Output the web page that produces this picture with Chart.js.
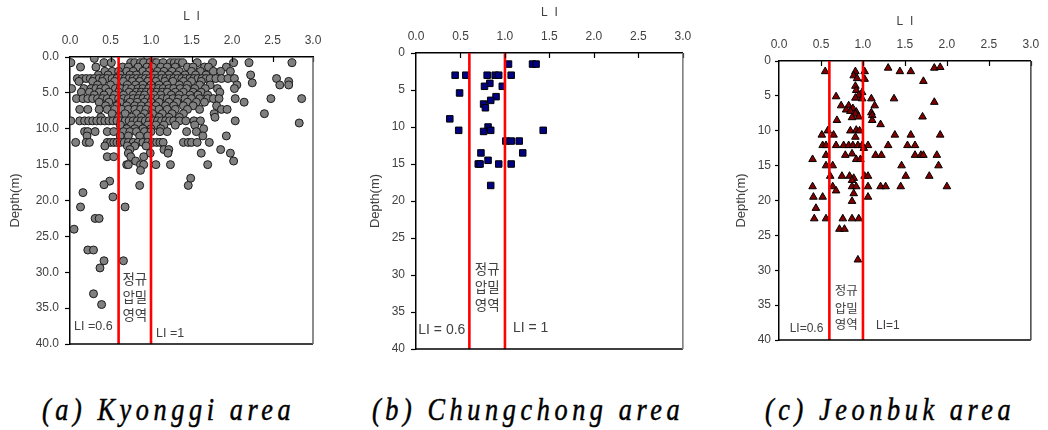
<!DOCTYPE html>
<html><head><meta charset="utf-8">
<script src="https://cdn.jsdelivr.net/npm/chart.js@4.4.1/dist/chart.umd.min.js"></script>
<style>
html,body{margin:0;padding:0;background:#fff;width:1048px;height:430px;overflow:hidden;position:relative;}
canvas{position:absolute;top:0;}
.cap{position:absolute;top:392px;font-family:"Liberation Serif",serif;font-style:italic;font-size:32px;line-height:34px;letter-spacing:5.6px;color:#000;white-space:nowrap;transform:scaleX(0.82);transform-origin:0 0;-webkit-text-stroke:0.5px #000;}
</style></head><body>
<canvas id="ca" width="340" height="370" style="left:0;width:340px;height:370px"></canvas>
<canvas id="cb" width="350" height="370" style="left:350px;width:350px;height:370px"></canvas>
<canvas id="cc" width="348" height="370" style="left:700px;width:348px;height:370px"></canvas>
<div class="cap" id="capA" style="left:42px"></div>
<div class="cap" id="capB" style="left:372px"></div>
<div class="cap" id="capC" style="left:765px"></div>
<script>
// ---- data ----
const liRange = [0, 3];
const depthRange = [0, 40];
const boundaries = [0.6, 1.0];
const zoneLabel = ['정규', '압밀', '영역'];
const captions = ['(a) Kyonggi area', '(b) Chungchong area', '(c) Jeonbuk area'];

// (a) Kyonggi: sampling depths and LI values measured at each depth
const kyonggiDepths = [0.0, 0.2, 0.8, 1.4, 2.0, 2.5, 3.0, 3.4, 3.6, 3.9, 4.4, 4.9, 5.3, 5.8, 6.3, 6.8, 7.3, 7.9, 8.4, 8.9, 9.2, 9.5, 10.0, 10.4, 11.0, 11.9, 12.4, 12.9, 13.4, 13.9, 14.5, 15.0];
const kyonggiLI = [
  [0.96],
  [0.30],
  [0.01,0.42,0.51,0.75,0.80,0.87,0.91,0.99,1.04,1.07,1.15,1.24,1.29,1.34,1.39,1.57,1.76,2.02,2.21,2.74],
  [0.13,0.32,0.65,0.72,0.84,0.95,1.02,1.12,1.20,1.30,1.45,1.52,1.66,1.71,1.93],
  [0.43,0.52,0.60,0.70,0.78,0.90,0.98,1.08,1.16,1.26,1.35,1.50,1.61,1.77,1.86,1.98],
  [0.35,0.47,0.62,0.74,0.82,0.94,1.05,1.13,1.22,1.32,1.42,1.55,1.68,2.23],
  [0.09,0.15,0.20,0.25,0.30,0.36,0.41,0.46,0.52,0.58,0.63,0.68,0.73,0.78,0.83,0.88,0.93,0.98,1.03,1.08,1.13,1.18,1.23,1.28,1.33,1.38,1.43,1.48,1.53,1.58,1.63,1.68,1.73,1.80,1.87,1.95,2.03,2.55],
  [0.11,0.28,0.40,0.55,0.66,0.77,0.86,0.96,1.06,1.17,1.27,1.40,1.50,1.62,2.70],
  [2.25],
  [0.34,0.50,0.71,0.81,0.90,1.00,1.10,1.20,1.35,1.45,1.60,1.73,2.06,2.59,2.70],
  [0.02,0.17,0.26,0.32,0.38,0.44,0.56,0.62,0.70,0.76,0.84,0.90,0.97,1.03,1.09,1.15,1.22,1.28,1.36,1.44,1.54,1.67,1.82,2.03],
  [0.14,0.24,0.36,0.48,0.60,0.73,0.82,0.88,0.94,1.00,1.07,1.14,1.20,1.30,1.40,1.52,1.62,1.85],
  [0.30,0.42,0.55,0.66,0.78,0.86,0.92,1.04,1.12,1.25,1.35,1.48,1.58,1.70],
  [0.08,0.16,0.22,0.28,0.34,0.40,0.46,0.53,0.60,0.66,0.72,0.78,0.84,0.90,0.96,1.02,1.08,1.14,1.20,1.27,1.34,1.42,1.50,1.60,1.70,1.77,1.84,2.04,2.48,2.86],
  [0.36,0.48,0.62,0.74,0.83,0.92,1.00,1.10,1.22,1.32,1.45,1.56,1.66,2.15],
  [0.44,0.58,0.70,0.80,0.88,0.97,1.06,1.18,1.28,1.40,1.52,1.81],
  [0.12,0.22,0.36,0.46,0.55,0.64,0.72,0.80,0.87,0.94,1.02,1.10,1.20,1.30,1.45,1.60,1.87,1.94],
  [0.52,0.68,0.82,0.92,1.02,1.14,1.26,1.40,1.78,2.40],
  [0.38,0.60,0.76,0.88,0.98,1.10,1.22,1.35,1.79],
  [0.01,0.12,0.18,0.23,0.28,0.33,0.38,0.43,0.48,0.53,0.58,0.63,0.68,0.73,0.78,0.83,0.88,0.93,0.98,1.03,1.08,1.13,1.18,1.23,1.28,1.35,1.43,1.53,1.61,2.04],
  [2.83],
  [0.62,0.76,0.84,0.96,1.06,1.16,1.30,1.54],
  [0.70,0.80,0.90,1.00,1.12,1.65],
  [0.18,0.22,0.31,0.46,0.54,0.66,0.74,0.82,0.92,1.00,1.11,1.20,1.44,1.56],
  [0.21,0.62,0.72,0.86,0.96,1.64,1.93],
  [0.07,0.20,0.24,0.46,0.50,0.54,0.58,0.62,0.67,0.72,0.78,0.84,0.90,0.96,1.02,1.07,1.11,1.15,1.40,1.46,1.50,1.57,1.72],
  [0.43,0.71,0.80,0.94],
  [0.74,1.16,1.22,1.86],
  [0.72,0.99,1.21,1.62,1.98],
  [0.46,0.54,0.75,0.91],
  [0.81,2.02],
  [0.70,0.72,0.87,0.91,1.06,1.24,1.70]
];
// (a) Kyonggi: deeper isolated samples [LI, depth]
const kyonggiDeep = [[0.87,15.8],[1.49,16.9],[0.49,17.3],[0.42,17.8],[0.86,17.9],[1.46,17.9],[0.16,18.9],[0.53,19.5],[0.13,20.9],[0.68,20.9],[0.31,22.5],[0.36,22.5],[0.05,24.0],[0.22,26.9],[0.29,26.9],[0.42,28.4],[0.66,28.4],[0.37,29.4],[0.29,33.0],[0.39,34.5]];

// (b) Chungchong [LI, depth]
const chungchong = [[1.04,1.5],[1.31,1.5],[1.35,1.5],[0.44,3.0],[0.56,3.0],[0.80,3.0],[0.89,3.0],[0.93,3.0],[1.07,3.0],[0.83,4.1],[0.77,4.5],[0.97,4.5],[0.49,5.4],[0.90,5.9],[0.84,6.4],[0.76,6.9],[0.78,7.4],[0.38,8.9],[0.81,10.0],[0.48,10.45],[0.84,10.45],[0.76,10.6],[1.43,10.45],[1.01,11.9],[1.07,11.9],[1.16,11.9],[1.20,13.5],[0.73,13.5],[0.81,14.5],[0.70,15.0],[0.72,15.0],[0.93,15.0],[1.07,15.0],[0.84,17.9]];

// (c) Jeonbuk [LI, depth]
const jeonbuk = [[0.55,1.5],[0.91,1.5],[1.02,1.5],[0.89,2.1],[0.93,2.5],[1.02,2.6],[1.30,1.0],[1.44,1.5],[1.57,1.5],[1.85,1.0],[1.92,0.9],[1.72,2.9],
  [0.91,3.6],[0.92,4.2],[0.99,4.5],[0.95,4.9],[0.91,5.3],[0.68,5.1],[0.99,5.4],[1.10,5.4],[1.37,5.4],[1.85,5.9],
  [0.74,6.4],[0.83,6.4],[0.88,6.8],[0.80,7.0],[0.85,7.2],[0.92,7.3],[0.91,7.6],[1.14,6.4],[1.10,7.4],[1.11,7.8],[0.95,8.0],[0.87,8.1],[1.71,8.0],
  [0.69,8.5],[1.11,8.5],[1.21,9.1],
  [0.85,10.0],[0.92,9.9],[0.96,10.0],[0.91,10.9],[0.51,10.6],[0.65,10.6],[0.58,10.0],[1.38,10.6],[1.57,10.6],[1.92,10.6],
  [0.52,12.1],[0.56,12.1],[0.68,12.1],[0.77,12.1],[0.83,12.1],[0.88,12.1],[0.94,12.1],[0.99,12.1],[1.06,12.1],[1.30,12.1],[1.53,12.1],[1.62,12.1],
  [1.01,12.5],
  [0.56,13.5],[0.79,13.5],[0.87,13.3],[1.15,13.5],[1.22,13.5],[1.62,13.5],[1.69,13.5],[1.72,13.5],[1.88,13.5],
  [0.40,14.1],[0.92,14.1],[0.97,14.1],
  [0.56,15.0],[0.64,15.0],[1.46,15.0],[1.90,15.0],
  [0.61,16.5],[0.75,16.5],[0.84,16.5],[0.89,16.8],[1.02,16.5],[1.06,16.5],[1.51,16.5],[1.79,16.5],
  [0.87,17.1],
  [0.40,18.0],[0.64,18.0],[0.87,18.0],[0.92,18.0],[1.06,18.0],[1.21,18.0],[1.27,18.0],[1.45,18.0],[2.00,18.0],
  [0.68,18.6],[0.89,19.0],[0.41,19.5],[0.52,19.5],[1.06,19.5],[0.87,20.1],[0.44,21.1],
  [0.42,22.6],[0.56,22.6],[0.76,22.6],[0.87,22.6],[0.95,22.6],
  [0.72,24.1],[0.78,24.1],
  [0.94,28.5]];

// ---- build ----
['capA', 'capB', 'capC'].forEach((id, i) => { document.getElementById(id).textContent = captions[i]; });

const kyonggi = [];
kyonggiDepths.forEach((d, i) => kyonggiLI[i].forEach(v => kyonggi.push([v, d])));
kyonggiDeep.forEach(p => kyonggi.push(p));

const TXT = '#404040';
const SANS = '"Liberation Sans", Arial, sans-serif';

const decoPlugin = {
  id: 'deco',
  afterDraw(chart) {
    const o = chart.options.plugins.deco;
    const {ctx, chartArea: a, scales: {x, y}} = chart;
    ctx.save();
    // inside tick marks on the top LI axis
    ctx.strokeStyle = '#000'; ctx.lineWidth = 1.2;
    for (let v = liRange[0] + 0.5; v <= liRange[1] + 1e-9; v += 0.5) {
      const px = Math.round(x.getPixelForValue(v)) + 0.5;
      ctx.beginPath(); ctx.moveTo(px, a.top); ctx.lineTo(px, a.top + 5); ctx.stroke();
    }
    // bottom and right frame lines
    ctx.lineWidth = 1.5;
    ctx.strokeStyle = '#000';
    ctx.beginPath(); ctx.moveTo(a.left, a.bottom); ctx.lineTo(a.right, a.bottom); ctx.stroke();
    ctx.strokeStyle = o.rightColor;
    ctx.beginPath(); ctx.moveTo(a.right, a.top); ctx.lineTo(a.right, a.bottom); ctx.stroke();
    // annotations
    ctx.fillStyle = TXT; ctx.textBaseline = 'middle';
    ctx.font = o.liSize + 'px ' + SANS;
    ctx.textAlign = 'right';
    ctx.fillText(o.lo.text, x.getPixelForValue(boundaries[0]) + o.lo.dx, y.getPixelForValue(o.lo.y));
    ctx.textAlign = 'left';
    ctx.fillText(o.hi.text, x.getPixelForValue(boundaries[1]) + o.hi.dx, y.getPixelForValue(o.hi.y));
    ctx.textAlign = 'center';
    ctx.font = o.krSize + 'px "Noto Sans CJK KR", sans-serif';
    const cx = (x.getPixelForValue(boundaries[0]) + x.getPixelForValue(boundaries[1])) / 2 + (o.krDx || 0);
    zoneLabel.forEach((t, i) => ctx.fillText(t, cx, y.getPixelForValue(o.krY[i])));
    ctx.restore();
  }
};

function makeChart(id, pts, mk, g, deco) {
  const datasets = boundaries.map(b => ({
    type: 'scatter', showLine: true,
    data: [{x: b, y: depthRange[0]}, {x: b, y: depthRange[1]}],
    borderColor: '#ff0000', borderWidth: 2.6, pointRadius: 0, fill: false
  }));
  datasets.push({
    data: pts.map(p => ({x: p[0], y: p[1]})),
    pointStyle: mk.style, pointRadius: mk.r, pointBackgroundColor: mk.fill,
    pointBorderColor: mk.stroke, pointBorderWidth: 1, showLine: false
  });
  return new Chart(document.getElementById(id), {
    type: 'scatter',
    data: {datasets},
    plugins: [decoPlugin],
    options: {
      responsive: false, animation: false, events: [],
      layout: {padding: {left: 0, top: 0, right: g.padR, bottom: g.padB}},
      plugins: {legend: {display: false}, tooltip: {enabled: false}, deco},
      scales: {
        x: {
          type: 'linear', position: 'top', min: liRange[0], max: liRange[1],
          ticks: {stepSize: 0.5, autoSkip: false, maxRotation: 0, padding: 8.8, color: TXT,
                  font: {family: SANS, size: 12}, callback: v => v.toFixed(1)},
          grid: {drawOnChartArea: false, drawTicks: false},
          border: {display: true, color: '#000', width: 1.5},
          title: {display: true, text: 'L  I', color: TXT, font: {family: SANS, size: 12}, padding: {top: g.xTitlePad, bottom: 0}},
          afterFit: s => { s.height = g.top; }
        },
        y: {
          type: 'linear', reverse: true, min: depthRange[0], max: depthRange[1],
          ticks: {stepSize: 5, autoSkip: false, padding: g.yTickPad, color: TXT,
                  font: {family: SANS, size: 12}, callback: v => g.dec ? v.toFixed(1) : String(v)},
          grid: {drawOnChartArea: false, drawTicks: true, tickLength: g.yTickLen, color: '#000', tickWidth: 1.2},
          border: {display: true, color: '#000', width: 1.5},
          title: {display: true, text: 'Depth(m)', color: TXT, font: {family: SANS, size: 13}, padding: {top: g.yTitlePad, bottom: 0}},
          afterFit: s => { s.width = g.left; }
        }
      }
    }
  });
}

makeChart('ca', kyonggi, {style: 'circle', r: 4, fill: '#808080', stroke: '#1a1a1a'},
  {left: 70, top: 57, padR: 27, padB: 26, xTitlePad: 9.5, yTitlePad: 7.2, yTickLen: 5, yTickPad: 6, dec: true},
  {rightColor: '#666', liSize: 12.5, krSize: 13.5, lo: {text: 'LI =0.6', dx: -6, y: 37.6}, hi: {text: 'LI =1', dx: 5, y: 38.5}, krY: [30.9, 33.4, 35.9]});

makeChart('cb', chungchong, {style: 'rect', r: 4.6, fill: '#000080', stroke: '#000'},
  {left: 66, top: 53, padR: 17, padB: 21, xTitlePad: 5.5, yTitlePad: 17.2, yTickLen: 5, yTickPad: 6, dec: false},
  {rightColor: '#777', liSize: 14, krSize: 13.5, lo: {text: 'LI = 0.6', dx: -4, y: 37.4}, hi: {text: 'LI = 1', dx: 8, y: 37.2}, krY: [29.2, 31.6, 34.1]});

makeChart('cc', jeonbuk, {style: 'triangle', r: 4.4, fill: '#800000', stroke: '#000'},
  {left: 79, top: 61, padR: 17, padB: 30, xTitlePad: 14.5, yTitlePad: 34, yTickLen: 4, yTickPad: 4, dec: false},
  {rightColor: '#444', liSize: 12, krSize: 12.5, lo: {text: 'LI=0.6', dx: -6, y: 38.4}, hi: {text: 'LI=1', dx: 13, y: 38.0}, krY: [32.8, 35.4, 37.7]});
</script>
</body></html>
